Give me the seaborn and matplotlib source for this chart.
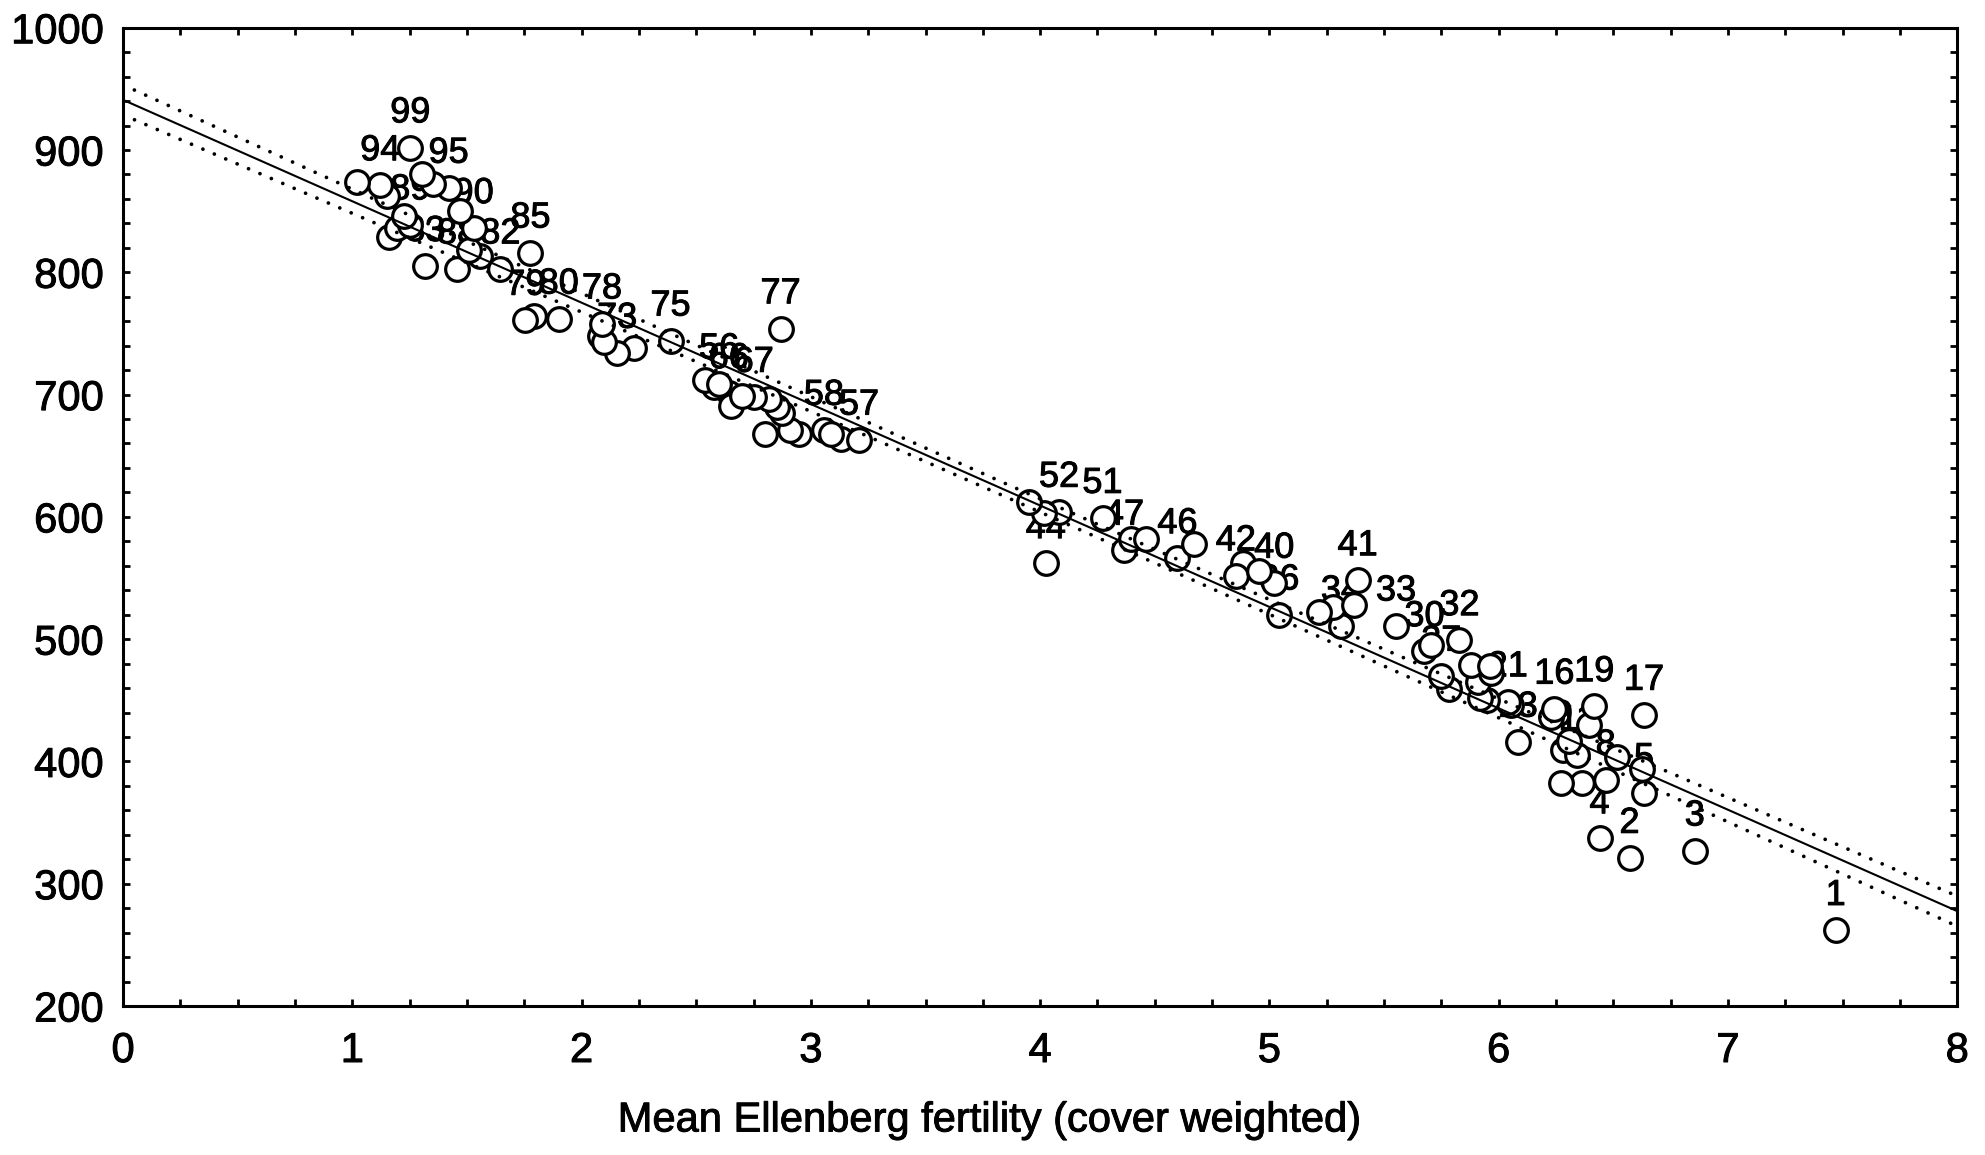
import numpy as np
import pandas as pd
import matplotlib
matplotlib.use("Agg")
import matplotlib.pyplot as plt
import matplotlib.patheffects as pe
import seaborn as sns
from matplotlib.ticker import MultipleLocator

# ---- data (fertility, score, label shown above point) ----
fertility = [7.470, 6.571, 6.855, 6.440, 6.627, 6.634, 6.365, 6.467, 6.280, 6.270,
             6.343, 6.518, 6.083, 6.308, 6.230, 6.243, 6.634, 6.395, 6.417, 6.054,
             6.040, 5.950, 5.920, 5.785, 5.910, 5.967, 5.750, 5.880, 5.676, 5.705,
             5.960, 5.829, 5.552, 5.312, 5.276, 5.043, 5.218, 5.370, 4.883, 5.021,
             5.385, 4.854, 4.956, 4.025, 4.366, 4.599, 4.395, 4.672, 4.461, 4.083,
             4.272, 4.017, 3.952, 3.130, 2.948, 2.642, 3.210, 3.057, 3.086, 2.911,
             2.802, 2.875, 2.853, 2.650, 2.817, 2.577, 2.751, 2.540, 2.700, 2.600,
             2.227, 2.080, 2.155, 2.097, 2.388, 1.791, 2.868, 2.089, 1.755, 1.900,
             1.457, 1.646, 1.318, 1.558, 1.777, 1.507, 1.158, 1.195, 1.253, 1.529,
             1.224, 1.471, 1.151, 1.122, 1.420, 1.354, 1.020, 1.304, 1.253]

score = [262, 321, 327, 337, 394, 374, 382, 385, 409, 382,
         405, 404, 416, 417, 436, 443, 438, 430, 445, 446,
         449, 450, 452, 459, 465, 472, 470, 479, 490, 495,
         478, 499, 511, 511, 526, 520, 522, 528, 562, 546,
         548, 552, 556, 562, 573, 566, 582, 578, 582, 604,
         599, 603, 612, 664, 668, 701, 663, 671, 668, 671,
         668, 685, 690, 691, 696, 706, 698, 712, 699, 709,
         738, 748, 734, 743, 744, 764, 754, 758, 761, 762,
         803, 803, 805, 813, 816, 818, 829, 836, 839, 836,
         846, 850, 862, 871, 869, 872, 874, 880, 902]

# site numbers as legible in the reference ("" = number not legible there)
point_labels = ["1", "2", "3", "4", "", "5", "", "8", "9", "",
                "11", "", "13", "", "", "16", "17", "", "19", "",
                "21", "", "", "", "", "", "27", "", "30", "",
                "", "32", "33", "34", "", "36", "", "", "", "40",
                "41", "42", "", "44", "47", "46", "", "", "", "52",
                "51", "", "", "", "", "66", "57", "58", "", "",
                "", "", "", "", "", "", "67", "", "", "56",
                "", "", "73", "", "75", "", "77", "78", "79", "80",
                "88", "82", "83", "", "85", "", "", "", "89", "90",
                "", "", "", "94", "95", "", "", "", "99"]

x_ticks = [0, 1, 2, 3, 4, 5, 6, 7, 8]
y_ticks = [200, 300, 400, 500, 600, 700, 800, 900, 1000]
x_label = "Mean Ellenberg fertility (cover weighted)"

df = pd.DataFrame({"fert": fertility, "score": score, "label": point_labels})

# ---- style ----
sns.set_theme(style="ticks")
plt.rcParams["font.family"] = ["Liberation Sans", "DejaVu Sans"]
bold_ink = [pe.withStroke(linewidth=0.7, foreground="black")]

fig = plt.figure(figsize=(19.85, 11.55), dpi=100)
ax = fig.add_axes([0.062, 0.129, 0.924, 0.847])

# labels first, circles (white-filled) on top of them
for _, r in df.iterrows():
    if r["label"]:
        ax.annotate(r["label"], (r["fert"], r["score"]), xytext=(0, 25),
                    textcoords="offset points", ha="center", va="center",
                    fontsize=26, color="black", zorder=2, path_effects=bold_ink)

sns.scatterplot(data=df, x="fert", y="score", s=290, facecolor="white",
                edgecolor="black", linewidth=2.3, zorder=3, ax=ax, legend=False)

# ---- least squares fit with 95% confidence limits ----
xa = np.asarray(fertility, float)
ya = np.asarray(score, float)
n = len(xa)
slope, intercept = np.polyfit(xa, ya, 1)
resid = ya - (intercept + slope * xa)
s = np.sqrt(np.sum(resid ** 2) / (n - 2))
xbar = xa.mean()
sxx = np.sum((xa - xbar) ** 2)
xs = np.linspace(0, 8, 300)
fit = intercept + slope * xs
half = 1.984 * s * np.sqrt(1.0 / n + (xs - xbar) ** 2 / sxx)

ax.plot(xs, fit, color="black", lw=1.5, zorder=4)
for band in (fit + half, fit - half):
    ax.plot(xs, band, color="black", lw=2.7, linestyle=(0, (0.01, 3.3)),
            dash_capstyle="round", zorder=4)

# ---- axes ----
ax.set_xlim(0, 8)
ax.set_ylim(200, 1000)
ax.set_xticks(x_ticks)
ax.set_yticks(y_ticks)
ax.xaxis.set_minor_locator(MultipleLocator(0.25))
ax.yaxis.set_minor_locator(MultipleLocator(20))
ax.tick_params(which="both", direction="in", length=5, width=2.0,
               top=True, right=True, colors="black", labelsize=30)
ax.tick_params(axis="x", which="major", pad=18)
ax.tick_params(axis="y", which="major", pad=14)
for lab in ax.get_xticklabels() + ax.get_yticklabels():
    lab.set_path_effects(bold_ink)
for sp in ax.spines.values():
    sp.set_visible(True)
    sp.set_linewidth(2.2)
    sp.set_color("black")

ax.set_xlabel(x_label, fontsize=30, color="black")
ax.xaxis.label.set_path_effects(bold_ink)
ax.set_ylabel("")
ax.xaxis.set_label_coords(0.472, -0.117)
ax.xaxis.label.set_verticalalignment("center")

fig.savefig("out.png", dpi=100)
